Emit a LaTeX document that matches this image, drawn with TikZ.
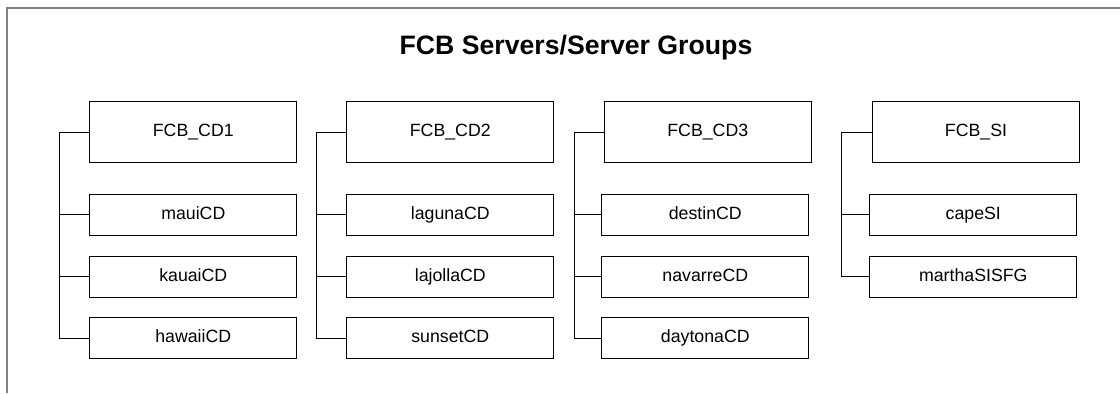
\documentclass[tikz,border=0pt]{standalone}
\usepackage{fontspec}
\setmainfont{Liberation Sans}
\begin{document}
\begin{tikzpicture}[x=0.75pt,y=-0.75pt,
  box/.style={draw, line width=0.75pt, inner sep=0pt, minimum width=155pt, text height=9.6pt, text depth=2.6pt, font=\fontsize{13.3}{16}\selectfont},
  big/.style={box, minimum height=45.75pt},
  small/.style={box, minimum height=30.75pt},
  link/.style={line width=0.75pt},
  frame/.style={draw=gray, line width=0.9pt}]
\useasboundingbox (0,0) rectangle (1120,393);
\draw[frame] (7,393) -- (7,8) -- (1120,8);
\node[font=\bfseries\fontsize{20}{24}\selectfont] (title) at (576,48) {FCB Servers/Server Groups};

% column 1
\node[big] (g1) at (193.3,132.2) {FCB\_CD1};
\node[small] (a1) at (193.3,214.8) {mauiCD};
\node[small] (b1) at (193.3,276.5) {kauaiCD};
\node[small] (c1) at (193.3,338.2) {hawaiiCD};
\coordinate (t1) at (59,132.2);
\draw[link] (g1.west) -- (t1) |- (c1.west);
\draw[link] (a1.west) -- (a1.west -| t1);
\draw[link] (b1.west) -- (b1.west -| t1);

% column 2
\node[big] (g2) at (450.3,132.2) {FCB\_CD2};
\node[small] (a2) at (450.3,214.8) {lagunaCD};
\node[small] (b2) at (450.3,276.5) {lajollaCD};
\node[small] (c2) at (450.3,338.2) {sunsetCD};
\coordinate (t2) at (316,132.2);
\draw[link] (g2.west) -- (t2) |- (c2.west);
\draw[link] (a2.west) -- (a2.west -| t2);
\draw[link] (b2.west) -- (b2.west -| t2);

% column 3
\node[big] (g3) at (707.8,132.2) {FCB\_CD3};
\node[small] (a3) at (705.3,214.8) {destinCD};
\node[small] (b3) at (705.3,276.5) {navarreCD};
\node[small] (c3) at (705.3,338.2) {daytonaCD};
\coordinate (t3) at (574.7,132.2);
\draw[link] (g3.west) -- (t3) |- (c3.west);
\draw[link] (a3.west) -- (a3.west -| t3);
\draw[link] (b3.west) -- (b3.west -| t3);

% column 4
\node[big] (g4) at (976,132.2) {FCB\_SI};
\node[small] (a4) at (973.3,214.8) {capeSI};
\node[small] (b4) at (973.3,276.5) {marthaSISFG};
\coordinate (t4) at (841.7,132.2);
\draw[link] (g4.west) -- (t4) |- (b4.west);
\draw[link] (a4.west) -- (a4.west -| t4);
\end{tikzpicture}
\end{document}
